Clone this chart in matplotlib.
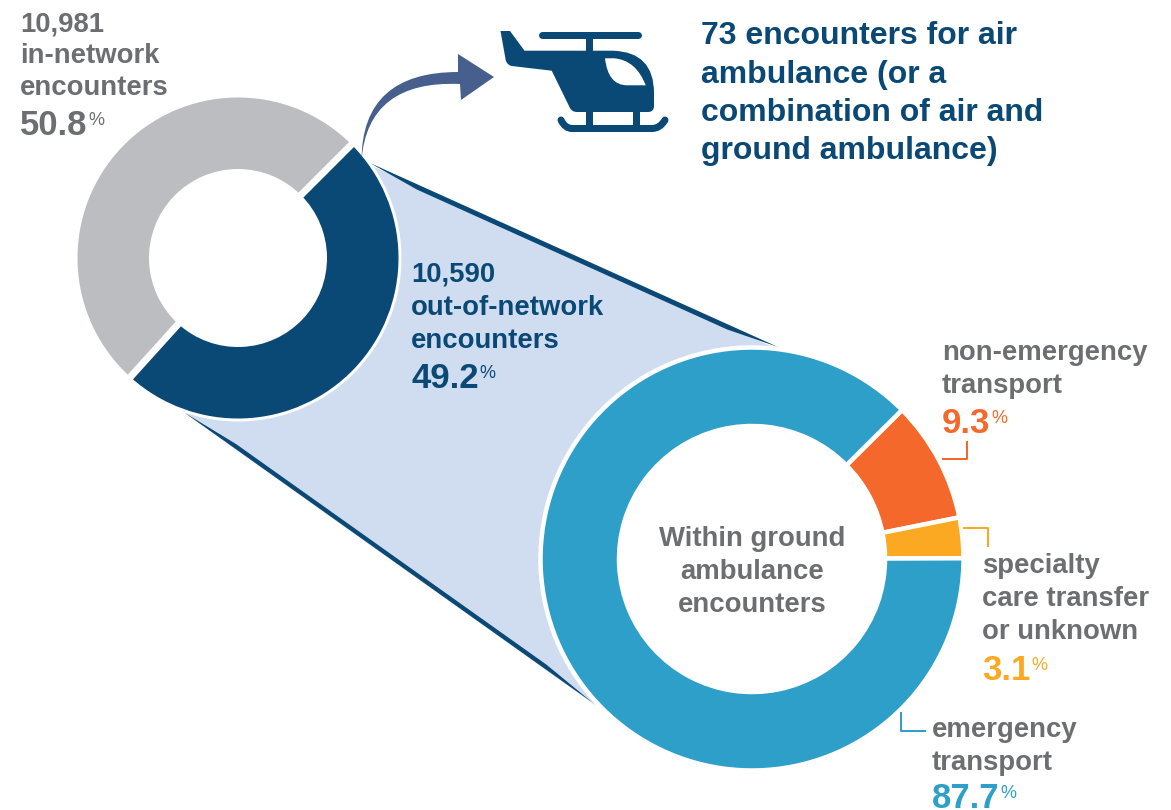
import matplotlib
matplotlib.use('Agg')
import matplotlib.pyplot as plt
from matplotlib.patches import Polygon, PathPatch
from matplotlib.path import Path
import numpy as np

plt.rcParams['font.family'] = ['Liberation Sans', 'DejaVu Sans']

# data
network_names = ['out-of-network', 'in-network']
network_shares = [49.2, 50.8]
network_counts = ['10,590', '10,981']
ground_names = ['non-emergency transport', 'specialty care transfer or unknown', 'emergency transport']
ground_shares = [9.3, 3.1, 87.7]
air_count = 73

DARK = '#0A4875'
GREY = '#6D6E71'
LIGHTGREY = '#BCBDC0'
BLUE = '#2E9FC9'
ORANGE = '#F4692B'
YELLOW = '#FBA922'
PALE = '#D0DCEF'
ARROW = '#465F8C'

H = 810


def pt(x, y):
	# picture pixels to axes coordinates
	return (x, H - y)


def pts(points):
	return [pt(x, y) for x, y in points]


def px(n):
	return n * 72.0 / 100


def curve(codes_points, color):
	verts = [pt(x, y) for _, x, y in codes_points]
	codes = [c for c, _, _ in codes_points]
	return PathPatch(Path(verts, codes), facecolor=color, edgecolor='none', zorder=6)


def taper(x0, y0, x1, y1, nx, ny):
	# edge line, thin at both tips and full width between them
	a = (x0 + (x1 - x0) * 0.12, y0 + (y1 - y0) * 0.12)
	b = (x0 + (x1 - x0) * 0.88, y0 + (y1 - y0) * 0.88)
	return Polygon(pts([(x0, y0), a, b, (x1, y1), (b[0] + nx, b[1] + ny), (a[0] + nx, a[1] + ny)]),
		closed=True, facecolor=DARK, edgecolor='none', zorder=2)


fig = plt.figure(figsize=(11.71, 8.10), dpi=100)
ax = fig.add_axes([0, 0, 1, 1])

# band joining the two rings
ax.add_patch(Polygon(pts([(372, 166), (775, 348), (650, 400), (570, 560), (595, 705), (186, 414),
	(300, 390), (370, 300), (360, 175)]), closed=True, facecolor=PALE, edgecolor='none', zorder=1))
ax.add_patch(taper(370, 163, 778, 347, -2, 4.5))
ax.add_patch(taper(185, 413, 593, 703, 2.5, -3.5))

# rings
start = 45
cx, cy = pt(238, 258)
ax.pie(network_shares, colors=[DARK, LIGHTGREY], startangle=start, counterclock=False,
	center=(cx, cy), radius=162, normalize=True,
	wedgeprops={'width': 74.5, 'edgecolor': 'white', 'linewidth': px(3), 'zorder': 3})
# wider gap between the two top slices
for a in [start, start - network_shares[0] * 3.6]:
	c, s = np.cos(np.radians(a)), np.sin(np.radians(a))
	ax.plot([cx + 80 * c, cx + 163 * c], [cy + 80 * s, cy + 163 * s], color='white', lw=px(7),
		solid_capstyle='butt', zorder=4)

ax.pie(ground_shares, colors=[ORANGE, YELLOW, BLUE], startangle=44.8, counterclock=False,
	center=pt(752, 559), radius=211.5, normalize=True,
	wedgeprops={'width': 78.5, 'edgecolor': 'white', 'linewidth': px(4.5), 'zorder': 3})

ax.set_xlim(0, 1171)
ax.set_ylim(0, H)
ax.axis('off')

# curved arrow
M, C, L, Z = Path.MOVETO, Path.CURVE3, Path.LINETO, Path.CLOSEPOLY
ax.add_patch(curve([(M, 361.5, 160), (C, 362, 72), (L, 458, 72), (L, 458, 54), (L, 494, 77), (L, 461, 100),
	(L, 460, 84), (C, 368, 80), (L, 361.5, 160), (Z, 361.5, 160)], ARROW))

# helicopter
ax.add_patch(curve([(M, 500.5, 31), (L, 510, 31), (L, 524.5, 50.7), (L, 613, 50.7), (C, 654, 52), (L, 654, 93),
	(L, 654, 106), (C, 654, 112), (L, 648, 112), (L, 577, 112), (C, 572, 112), (L, 570, 108),
	(L, 551.7, 70.7), (L, 511.7, 66), (C, 507, 65), (L, 505.7, 60), (L, 500.5, 31), (Z, 500.5, 31)], DARK))
ax.add_patch(curve([(M, 605, 58.3), (L, 614, 58.3), (C, 636, 60), (L, 645.7, 85.3), (L, 626.7, 85.3),
	(C, 608, 85), (L, 605, 58.3), (Z, 605, 58.3)], 'white'))
ax.patches[-1].set_zorder(7)
lw = px(7)
ax.plot(*zip(pt(541.5, 35), pt(637.5, 35)), color=DARK, lw=lw, solid_capstyle='round', zorder=6)
ax.plot(*zip(pt(589.3, 35), pt(589.3, 52)), color=DARK, lw=lw, solid_capstyle='butt', zorder=6)
ax.plot(*zip(pt(589.3, 110), pt(589.3, 128)), color=DARK, lw=lw, solid_capstyle='butt', zorder=6)
ax.plot(*zip(pt(635.7, 110), pt(635.7, 128)), color=DARK, lw=lw, solid_capstyle='butt', zorder=6)
ax.add_patch(PathPatch(Path(pts([(561, 120), (565, 128.5), (572, 128.5), (652, 128.5), (660, 128.5), (665, 120)]),
	[M, C, L, L, C, C]), facecolor='none', edgecolor=DARK, lw=lw, capstyle='round', zorder=6))

# small elbow connectors
ax.plot(*zip(*pts([(942.7, 459), (967.3, 459), (967.3, 441.7)])), color=ORANGE, lw=px(2), zorder=5)
ax.plot(*zip(*pts([(964, 528.3), (987.7, 528.3), (987.7, 546)])), color=YELLOW, lw=px(2), zorder=5)
ax.plot(*zip(*pts([(900.7, 713.3), (900.7, 730.7), (925, 730.7)])), color=BLUE, lw=px(2), zorder=5)


def lines(x, baselines, strings, color, size=19.8, ha='left'):
	for y, s in zip(baselines, strings):
		ax.text(*pt(x, y), s, color=color, fontsize=size, fontweight='bold', ha=ha, va='baseline', zorder=8)


def share(x, y, value, color):
	t = ax.text(*pt(x, y), '%.1f' % value, color=color, fontsize=25, fontweight='bold', va='baseline', zorder=8)
	box = t.get_window_extent(renderer=fig.canvas.get_renderer())
	ax.text(box.x1 + 1, H - y + 10, '%', color=color, fontsize=13, va='baseline', zorder=8)


lines(20, [31, 63, 95], [network_counts[1], 'in-network', 'encounters'], GREY)
share(20, 135, network_shares[1], GREY)

lines(411, [282, 315, 348], [network_counts[0], 'out-of-network', 'encounters'], DARK)
share(411, 388, network_shares[0], DARK)

lines(701, [44, 83, 121, 159], ['%d encounters for air' % air_count, 'ambulance (or a',
	'combination of air and', 'ground ambulance)'], DARK, size=23)

lines(942, [360, 393], ['non-emergency', 'transport'], GREY)
share(942, 433, ground_shares[0], ORANGE)

lines(982, [573, 606, 639], ['specialty', 'care transfer', 'or unknown'], GREY)
share(982, 680, ground_shares[1], YELLOW)

lines(932, [737, 770], ['emergency', 'transport'], GREY)
share(932, 808, ground_shares[2], BLUE)

lines(752, [546, 579, 612], ['Within ground', 'ambulance', 'encounters'], GREY, ha='center')

fig.savefig('out.png', dpi=100)
